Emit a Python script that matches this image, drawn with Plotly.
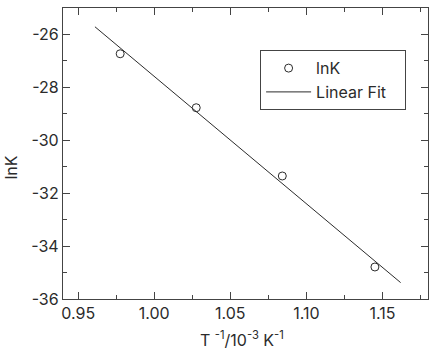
import plotly.graph_objects as go

# Data
inv_T = [0.9776, 1.0276, 1.0842, 1.1451]
lnK = [-26.73, -28.77, -31.35, -34.79]
fit_x = [0.961, 1.162]
fit_y = [-25.71, -35.38]

x_ticks = [0.95, 1.00, 1.05, 1.10, 1.15]
x_tick_labels = ["0.95", "1.00", "1.05", "1.10", "1.15"]
x_minor = [0.975, 1.025, 1.075, 1.125, 1.175]
y_ticks = [-26, -28, -30, -32, -34, -36]
y_tick_labels = ["-26", "-28", "-30", "-32", "-34", "-36"]
y_minor = [-27, -29, -31, -33, -35]

FONT = "Inter, Liberation Sans, Arial, sans-serif"
INK = "#2b2b2b"
FS = 16

fig = go.Figure()
fig.add_trace(go.Scatter(
    x=inv_T, y=lnK, mode="markers", name="lnK",
    marker=dict(symbol="circle-open", size=8, color=INK, line=dict(width=1, color=INK)),
))
fig.add_trace(go.Scatter(
    x=fit_x, y=fit_y, mode="lines", name="Linear Fit\u00a0\u00a0\u00a0",
    line=dict(color=INK, width=1),
))

axis_common = dict(
    showline=True, linecolor="#444", linewidth=1.3, mirror="allticks",
    ticks="inside", ticklen=7, tickwidth=1, tickcolor="#444",
    showgrid=False, zeroline=False,
    tickfont=dict(family=FONT, size=FS, color=INK),
)

fig.update_layout(
    width=432, height=350,
    margin=dict(l=63, r=4, t=8, b=51),
    paper_bgcolor="white", plot_bgcolor="white",
    font=dict(family=FONT, size=FS, color=INK),
    xaxis=dict(range=[0.94, 1.18], tickvals=x_ticks, ticktext=x_tick_labels,
               minor=dict(tickvals=x_minor, ticks="inside", ticklen=4, tickwidth=1,
                          tickcolor="#444", showgrid=False),
               **axis_common),
    yaxis=dict(range=[-36, -25], tickvals=y_ticks, ticktext=y_tick_labels,
               minor=dict(tickvals=y_minor, ticks="inside", ticklen=4, tickwidth=1,
                          tickcolor="#444", showgrid=False),
               **axis_common),
    legend=dict(
        x=0.54, y=0.855, xanchor="left", yanchor="top",
        bordercolor="#444", borderwidth=1, bgcolor="white",
        font=dict(family=FONT, size=FS, color=INK),
        tracegroupgap=0, itemwidth=45,
    ),
    showlegend=True,
)

fig.add_annotation(text="lnK", xref="paper", yref="paper", x=-0.141, y=0.45,
                   xanchor="center", yanchor="middle",
                   showarrow=False, textangle=-90,
                   font=dict(family=FONT, size=FS, color=INK))
fig.add_annotation(text="T <sup>-1</sup>/10<sup>-3</sup> K<sup>-1</sup>",
                   xref="paper", yref="paper", x=0.49, y=-0.183, yanchor="bottom",
                   showarrow=False, font=dict(family=FONT, size=FS, color=INK))

fig.write_html("out.html")
